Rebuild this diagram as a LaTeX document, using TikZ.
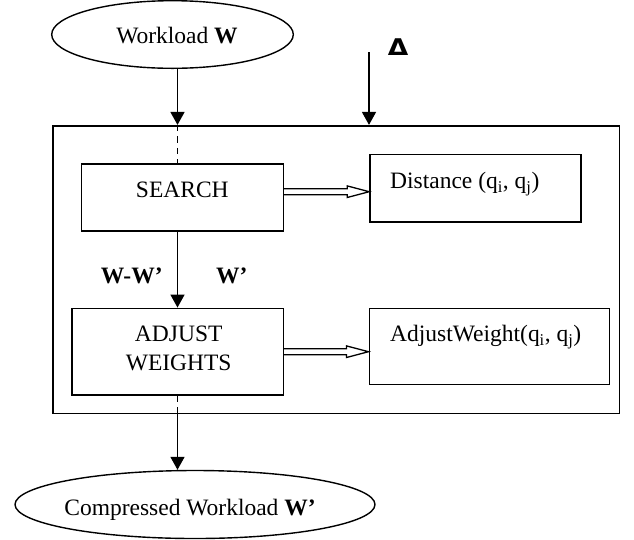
\documentclass[tikz,border=0pt]{standalone}
\usepackage{fontspec}
\usepackage{graphicx}
\setmainfont{Liberation Serif}
\newfontfamily\deltafont{DejaVu Sans}
\usetikzlibrary{shapes.geometric,arrows.meta,calc}
\begin{document}
\begin{tikzpicture}[x=1pt,y=-1pt,
  every node/.style={font=\fontsize{23.5}{29}\selectfont},
  box/.style={draw,line width=1.6pt,rectangle,inner sep=0pt},
  oval/.style={draw,line width=1.4pt,ellipse,inner sep=0pt},
  txt/.style={inner sep=0pt},
  flow/.style={line width=1.5pt,-{Triangle[length=13pt,width=14pt]}},
  dashline/.style={line width=1.5pt,dash pattern=on 6.5pt off 5pt},
  dbl/.style={line width=1.3pt,line join=miter}]
\useasboundingbox (0,0) rectangle (634,539);
% shapes
\node[oval,minimum width=241.6pt,minimum height=67.6pt] (w) at (172.5,34.5) {};
\node[txt,anchor=base] (wt) at (177,43.3) {Workload \textbf{W}};
\node[box,minimum width=566.6pt,minimum height=287.6pt] (outer) at (336,269.5) {};
\node[box,minimum width=202pt,minimum height=67pt] (search) at (182.3,197.5) {};
\node[txt,anchor=base] (searcht) at (182.3,197.3) {SEARCH};
\node[box,minimum width=211pt,minimum height=67.4pt] (dist) at (475.5,188) {};
\node[txt,anchor=base west] (distt) at (390,188.5) {Distance (q\textsubscript{i}, q\textsubscript{j})};
\node[box,minimum width=211.6pt,minimum height=86.7pt] (adjust) at (177.5,351.7) {};
\node[txt,anchor=base] (adjt1) at (178.7,341) {ADJUST};
\node[txt,anchor=base] (adjt2) at (178.7,370) {WEIGHTS};
\node[box,minimum width=240pt,minimum height=76pt] (adjw) at (489.3,346.3) {};
\node[txt,anchor=base west] (adjwt) at (390,341.7) {AdjustWeight(q\textsubscript{i}, q\textsubscript{j})};
\node[oval,minimum width=360pt,minimum height=68pt] (cw) at (195,504.5) {};
\node[txt,anchor=base] (cwt) at (190,515) {Compressed Workload \textbf{W’}};
\node[txt,anchor=base,font=\deltafont\bfseries\fontsize{23}{27}\selectfont] (delta) at (398,55.5) {\scalebox{1.15}[1]{Δ}};
\node[txt,anchor=base] (lab1) at (131.7,283.3) {\textbf{W-W’}};
\node[txt,anchor=base] (lab2) at (231.7,283.3) {\textbf{W’}};
% vertical flow
\coordinate (dtop) at (369,52);
\draw[flow] (w.south -| adjust.north) -- (outer.north -| adjust.north);
\draw[dashline] (outer.north -| adjust.north) -- (search.north -| adjust.north);
\draw[flow] (dtop) -- (outer.north -| dtop);
\draw[flow] (search.south -| adjust.north) -- (adjust.north);
\draw[dashline] (adjust.south) -- (outer.south -| adjust.south);
\draw[flow] (outer.south -| adjust.south) -- (cw.north -| adjust.south);
% double arrows
\coordinate (s1) at ($(search.east)+(0,-5.8)$);
\coordinate (t1) at (dist.west |- s1);
\draw[dbl] ($(s1)+(0,-3)$) -- ($(t1)+(-22,-3)$) -- ($(t1)+(-22,-5.8)$) -- (t1)
  -- ($(t1)+(-22,5.8)$) -- ($(t1)+(-22,3)$) -- ($(s1)+(0,3)$);
\coordinate (s2) at (adjust.east);
\coordinate (t2) at (adjw.west |- s2);
\draw[dbl] ($(s2)+(0,-3)$) -- ($(t2)+(-22,-3)$) -- ($(t2)+(-22,-5.8)$) -- (t2)
  -- ($(t2)+(-22,5.8)$) -- ($(t2)+(-22,3)$) -- ($(s2)+(0,3)$);
\end{tikzpicture}
\end{document}
